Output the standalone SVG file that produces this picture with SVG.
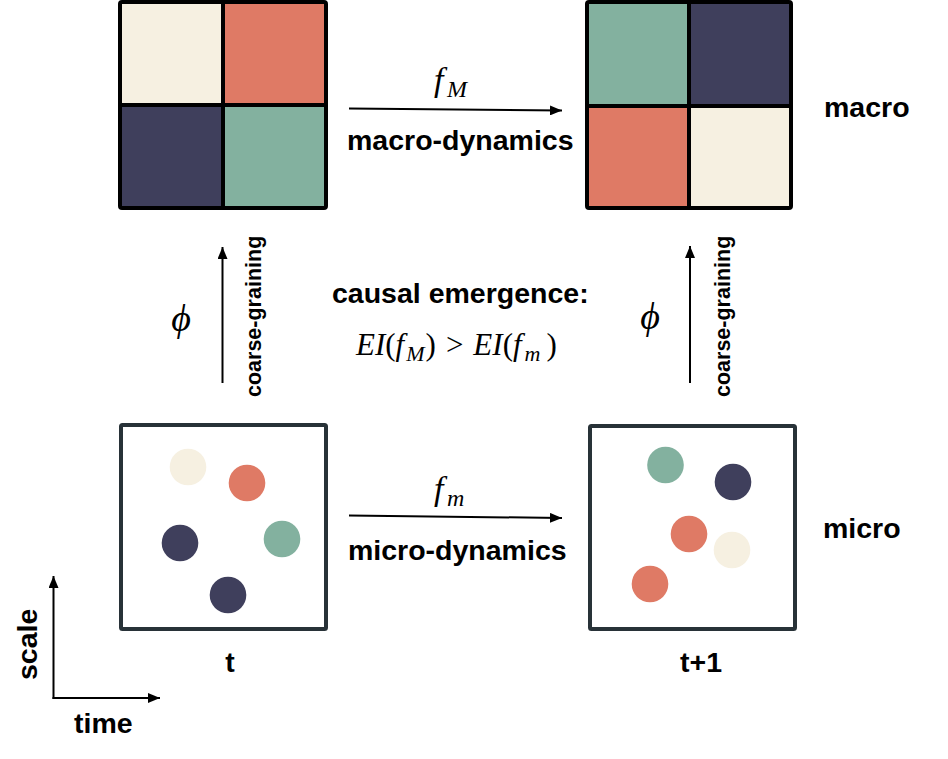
<svg xmlns="http://www.w3.org/2000/svg" width="948" height="759" viewBox="0 0 948 759">
<defs>
<style>
.lbl{font-family:"Liberation Sans",Arial,sans-serif;font-weight:bold;font-size:28.5px;fill:#000}
.cg{font-family:"Liberation Sans",Arial,sans-serif;font-weight:bold;font-size:21.5px;fill:#000}
.math{font-family:"Liberation Serif","Times New Roman",serif;font-style:italic;fill:#000}
.up{font-style:normal}
.grid{stroke:#000;stroke-width:4;fill:none}
.box{stroke:#283238;stroke-width:4;fill:#fff}
.cream{fill:#F6F0E1}.salmon{fill:#DF7A65}.navy{fill:#3F3F5C}.green{fill:#83B19F}
.conn{stroke:#000;stroke-width:2;fill:none}
</style>
<marker id="ah" viewBox="0 0 12 10" refX="12" refY="5" markerWidth="12" markerHeight="10" markerUnits="userSpaceOnUse" orient="auto">
<path d="M0,0 L12,5 L0,10 Z" fill="#000"/>
</marker>
</defs>
<rect width="948" height="759" fill="#fff"/>

<g id="macro-t">
<rect class="cream" x="120" y="2" width="103" height="103"/>
<rect class="salmon" x="223" y="2" width="103" height="103"/>
<rect class="navy" x="120" y="105" width="103" height="103"/>
<rect class="green" x="223" y="105" width="103" height="103"/>
<line class="grid" x1="223" y1="2" x2="223" y2="208"/>
<line class="grid" x1="120" y1="105" x2="326" y2="105"/>
<rect class="grid" x="120" y="2" width="206" height="206" rx="2"/>
</g>

<g id="macro-t1">
<rect class="green" x="587" y="2" width="102" height="104"/>
<rect class="navy" x="689" y="2" width="102" height="104"/>
<rect class="salmon" x="587" y="106" width="102" height="102"/>
<rect class="cream" x="689" y="106" width="102" height="102"/>
<line class="grid" x1="689" y1="2" x2="689" y2="208"/>
<line class="grid" x1="587" y1="106" x2="791" y2="106"/>
<rect class="grid" x="587" y="2" width="204" height="206" rx="2"/>
</g>

<g id="micro-t">
<rect class="box" x="121" y="425" width="205" height="204" rx="1.5"/>
<circle class="cream" cx="188" cy="467" r="18.3"/>
<circle class="salmon" cx="247" cy="483" r="18.3"/>
<circle class="navy" cx="180" cy="543" r="18.3"/>
<circle class="green" cx="282" cy="539" r="18.3"/>
<circle class="navy" cx="228" cy="595" r="18.3"/>
</g>

<g id="micro-t1">
<rect class="box" x="590" y="426" width="205" height="203" rx="1.5"/>
<circle class="green" cx="665.5" cy="465" r="18.3"/>
<circle class="navy" cx="733" cy="482" r="18.3"/>
<circle class="salmon" cx="689" cy="534" r="18.3"/>
<circle class="cream" cx="732" cy="550" r="18.3"/>
<circle class="salmon" cx="650" cy="584" r="18.3"/>
</g>

<g id="connectors">
<line class="conn" x1="349" y1="108.5" x2="562" y2="110.5" marker-end="url(#ah)"/>
<line class="conn" x1="349" y1="515.5" x2="562" y2="518" marker-end="url(#ah)"/>
<line class="conn" x1="222.5" y1="383" x2="222.5" y2="247" marker-end="url(#ah)"/>
<line class="conn" x1="690" y1="383" x2="690" y2="246" marker-end="url(#ah)"/>
<line class="conn" x1="53.5" y1="699" x2="53.5" y2="576" marker-end="url(#ah)"/>
<line class="conn" x1="52.5" y1="698" x2="160" y2="698" marker-end="url(#ah)"/>
</g>

<g id="labels">
<text class="math" x="434" y="91" font-size="34">f<tspan x="447" y="97" font-size="24">M</tspan></text>
<text class="lbl" x="347" y="150">macro-dynamics</text>
<text class="lbl" x="824" y="117">macro</text>
<text class="math" x="434" y="500" font-size="34">f<tspan x="447" y="506" font-size="24">m</tspan></text>
<text class="lbl" x="348" y="560">micro-dynamics</text>
<text class="lbl" x="823" y="538">micro</text>
<text class="lbl" x="332" y="303">causal emergence:</text>
<text class="math" font-size="31" x="356" y="355">EI<tspan class="up">(</tspan>f<tspan dx="2" dy="6" font-size="22">M</tspan><tspan class="up" dx="1" dy="-6">)</tspan><tspan class="up" dx="10">&gt;</tspan><tspan dx="10">EI</tspan><tspan class="up">(</tspan>f<tspan dx="3" dy="6" font-size="22">m</tspan><tspan class="up" dx="6" dy="-6">)</tspan></text>
<text class="math" x="181" y="331" font-size="38" font-family="'DejaVu Serif',serif" text-anchor="middle">ϕ</text>
<text class="math" x="650" y="329" font-size="38" font-family="'DejaVu Serif',serif" text-anchor="middle">ϕ</text>
<text class="cg" transform="translate(261,397) rotate(-90)">coarse-graining</text>
<text class="cg" transform="translate(730,397) rotate(-90)">coarse-graining</text>
<text class="lbl" x="230" y="672" text-anchor="middle">t</text>
<text class="lbl" x="701" y="672" text-anchor="middle">t+1</text>
<text class="lbl" x="74" y="733">time</text>
<text class="lbl" transform="translate(37,680) rotate(-90)">scale</text>
</g>
</svg>
